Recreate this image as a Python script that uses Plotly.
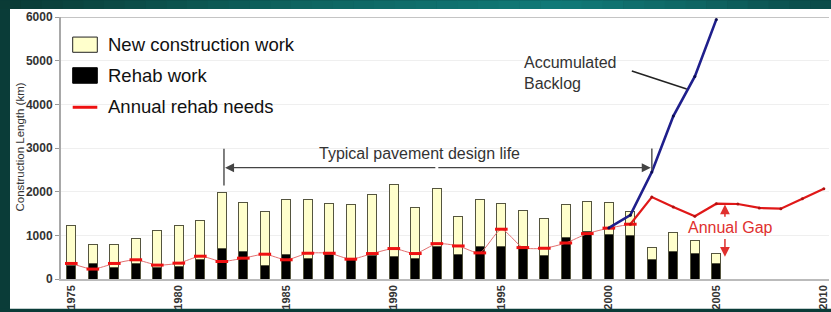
import plotly.graph_objects as go

# ---------------- data ----------------
bar_years = list(range(1975, 2006))
rehab_work = [300, 350, 260, 350, 260, 280, 450, 700, 620, 300,
              570, 470, 570, 470, 530, 515, 470, 735, 550, 750,
              735, 750, 540, 960, 1080, 1020, 1000, 450, 620, 580, 360]
new_construction = [930, 440, 530, 580, 850, 950, 900, 1270, 1130, 1240,
                    1240, 1340, 1150, 1230, 1400, 1655, 1160, 1335, 870, 1060,
                    985, 820, 840, 740, 700, 730, 550, 270, 440, 310, 220]

needs_hist_years = list(range(1975, 2002))
needs_hist = [356, 227, 356, 440, 318, 363, 522, 401, 477, 568,
              440, 590, 590, 454, 583, 697, 583, 810, 757, 598,
              1140, 719, 704, 825, 1040, 1165, 1255]

needs_proj_years = list(range(2001, 2011))
needs_proj = [1255, 1877, 1650, 1438, 1725, 1717, 1627, 1611, 1838, 2065]

backlog_years = [2000, 2001, 2002, 2003, 2004, 2005]
backlog = [1170, 1461, 2450, 3730, 4638, 5945]

x_tick_vals = [1975, 1980, 1985, 1990, 1995, 2000, 2005, 2010]
x_tick_text = ["1975", "1980", "1985", "1990", "1995", "2000", "2005", "2010"]
y_tick_vals = [0, 1000, 2000, 3000, 4000, 5000, 6000]
y_tick_text = ["0", "1000", "2000", "3000", "4000", "5000", "6000"]

# ---------------- geometry helpers ----------------
W, H = 831, 312
L, R, T, B = 61, 829, 17, 282
FONT = "Liberation Sans, Arial, Helvetica, sans-serif"


def px_x(p):
    return (p - L) / (R - L)


def px_y(p):
    return (B - p) / (B - T)


fig = go.Figure()

fig.add_trace(go.Bar(x=bar_years, y=rehab_work, name="Rehab work",
                     marker=dict(color="#000000", line=dict(color="#55553f", width=1)),
                     width=0.43))
fig.add_trace(go.Bar(x=bar_years, y=new_construction, name="New construction work",
                     marker=dict(color="#ffffcc", line=dict(color="#55553f", width=1)),
                     width=0.43))

fig.add_trace(go.Scatter(x=needs_hist_years, y=needs_hist, mode="lines+markers",
                         line=dict(color="#e27070", width=1, shape="spline", smoothing=0.6),
                         marker=dict(symbol="line-ew", size=9,
                                     line=dict(color="#ee1111", width=3)),
                         name="Annual rehab needs"))
fig.add_trace(go.Scatter(x=needs_proj_years, y=needs_proj, mode="lines+markers",
                         line=dict(color="#e01818", width=2.2),
                         marker=dict(symbol="circle", size=3, color="#b01010"),
                         showlegend=False))
fig.add_trace(go.Scatter(x=backlog_years, y=backlog, mode="lines+markers",
                         line=dict(color="#1f1f8c", width=2.6),
                         marker=dict(symbol="circle", size=3, color="#0c0c50"),
                         name="Accumulated Backlog"))

shapes = []
# teal frame background gradient (top band)
stops = [(0, (10, 58, 53)), (300, (14, 100, 96)), (560, (16, 122, 120)),
         (700, (14, 100, 98)), (831, (11, 74, 72))]


def interp(xp):
    for (xa, ca), (xb, cb) in zip(stops[:-1], stops[1:]):
        if xa <= xp <= xb:
            t = (xp - xa) / (xb - xa)
            return tuple(int(round(ca[i] + (cb[i] - ca[i]) * t)) for i in range(3))
    return stops[-1][1]


nseg = 40
for i in range(nseg):
    xa = W * i / nseg
    xb = W * (i + 1) / nseg
    c = interp((xa + xb) / 2)
    shapes.append(dict(type="rect", xref="paper", yref="paper",
                       x0=px_x(xa), x1=px_x(xb + 0.5), y0=px_y(9), y1=px_y(0),
                       fillcolor="rgb(%d,%d,%d)" % c, line=dict(width=0), layer="below"))
# left dark band
shapes.append(dict(type="rect", xref="paper", yref="paper",
                   x0=px_x(0), x1=px_x(10), y0=px_y(H), y1=px_y(9),
                   fillcolor="rgb(10,60,56)", line=dict(width=0), layer="below"))
# white panel
shapes.append(dict(type="rect", xref="paper", yref="paper",
                   x0=px_x(10), x1=px_x(W), y0=px_y(H), y1=px_y(9),
                   fillcolor="white", line=dict(width=0), layer="below"))
# top border line at 6000
shapes.append(dict(type="line", xref="paper", yref="y", x0=0, x1=1, y0=6000, y1=6000,
                   line=dict(color="#c4c4c4", width=2)))

# design-life bracket verticals
shapes.append(dict(type="line", xref="x", yref="y", x0=1982.1, x1=1982.1, y0=2140, y1=2980,
                   line=dict(color="#555555", width=1.5)))
shapes.append(dict(type="line", xref="x", yref="y", x0=2002.0, x1=2002.0, y0=2490, y1=2990,
                   line=dict(color="#555555", width=1.5)))
# backlog leader line
shapes.append(dict(type="line", xref="x", yref="y", x0=2001.07, x1=2003.62, y0=4765, y1=4350,
                   line=dict(color="#222222", width=1.5)))

# manual legend keys
shapes.append(dict(type="rect", xref="paper", yref="paper",
                   x0=px_x(72.7), x1=px_x(97.3), y0=px_y(52.7), y1=px_y(37.3),
                   fillcolor="#ffffcc", line=dict(color="#222222", width=1)))
shapes.append(dict(type="rect", xref="paper", yref="paper",
                   x0=px_x(72.7), x1=px_x(97.3), y0=px_y(84), y1=px_y(68.3),
                   fillcolor="#000000", line=dict(color="#000000", width=1)))
shapes.append(dict(type="line", xref="paper", yref="paper",
                   x0=px_x(72.7), x1=px_x(97.3), y0=px_y(108.3), y1=px_y(108.3),
                   line=dict(color="#ee1111", width=3)))

annotations = []
for txt, py in [("New construction work", 45), ("Rehab work", 76), ("Annual rehab needs", 108)]:
    annotations.append(dict(text=txt, xref="paper", yref="paper", x=px_x(106), y=px_y(py),
                            xanchor="left", yanchor="middle", showarrow=False,
                            font=dict(family=FONT, size=18.5, color="#111111")))

# y axis title
annotations.append(dict(text="Construction Length (km)", xref="paper", yref="paper",
                        x=px_x(20), y=px_y(149), textangle=-90, showarrow=False,
                        xanchor="center", yanchor="middle",
                        font=dict(family=FONT, size=11.5, color="#333333")))

# design-life text and arrows
annotations.append(dict(text="Typical pavement design life", xref="x", yref="y",
                        x=1991.2, y=2880, showarrow=False, xanchor="center", yanchor="middle",
                        font=dict(family=FONT, size=16, color="#333333")))
annotations.append(dict(text="", x=1982.15, y=2550, ax=1992, ay=2550, xref="x", yref="y",
                        axref="x", ayref="y", showarrow=True, arrowhead=2, arrowsize=1.5,
                        arrowwidth=1.2, arrowcolor="#444444", standoff=0))
annotations.append(dict(text="", x=2001.95, y=2550, ax=1992, ay=2550, xref="x", yref="y",
                        axref="x", ayref="y", showarrow=True, arrowhead=2, arrowsize=1.5,
                        arrowwidth=1.2, arrowcolor="#444444", standoff=0))

# Accumulated backlog label
annotations.append(dict(text="Accumulated<br>Backlog", xref="x", yref="y",
                        x=1995.95, y=4724, showarrow=False, xanchor="left", yanchor="middle",
                        align="left", font=dict(family=FONT, size=16, color="#333333")))

# Annual gap label + arrows
annotations.append(dict(text="Annual Gap", xref="x", yref="y", x=2005.65, y=1173,
                        showarrow=False, xanchor="center", yanchor="middle",
                        font=dict(family=FONT, size=16, color="#e0302e")))
annotations.append(dict(text="", x=2005.4, y=1705, ax=2005.4, ay=1390, xref="x", yref="y",
                        axref="x", ayref="y", showarrow=True, arrowhead=2, arrowsize=1.3,
                        arrowwidth=1.5, arrowcolor="#e0302e", standoff=0))
annotations.append(dict(text="", x=2005.4, y=510, ax=2005.4, ay=950, xref="x", yref="y",
                        axref="x", ayref="y", showarrow=True, arrowhead=2, arrowsize=1.3,
                        arrowwidth=1.5, arrowcolor="#e0302e", standoff=0))

fig.update_layout(
    width=W, height=H,
    margin=dict(l=L, r=W - R, t=T, b=H - B, pad=0),
    paper_bgcolor="rgb(10,60,56)",
    plot_bgcolor="white",
    barmode="stack",
    showlegend=False,
    shapes=shapes,
    annotations=annotations,
    xaxis=dict(range=[1974.52, 2010.24], tickvals=x_tick_vals, ticktext=x_tick_text,
               tickangle=-90, showgrid=False, zeroline=False, showline=True,
               linecolor="#bbbbbb", linewidth=1.5, ticks="",
               tickfont=dict(family=FONT, size=11, color="#333333", weight="bold")),
    yaxis=dict(range=[0, 6000], tickvals=y_tick_vals, ticktext=y_tick_text,
               showgrid=True, gridcolor="#efefef", gridwidth=1, zeroline=False,
               showline=True, linecolor="#a8a8a8", linewidth=2,
               ticks="outside", ticklen=4, tickcolor="#999999",
               tickfont=dict(family=FONT, size=12, color="#333333", weight="bold")),
)

fig.write_html("out.html", config={"displayModeBar": False},
               post_script="document.body.style.margin='0';document.body.style.overflow='hidden';")
